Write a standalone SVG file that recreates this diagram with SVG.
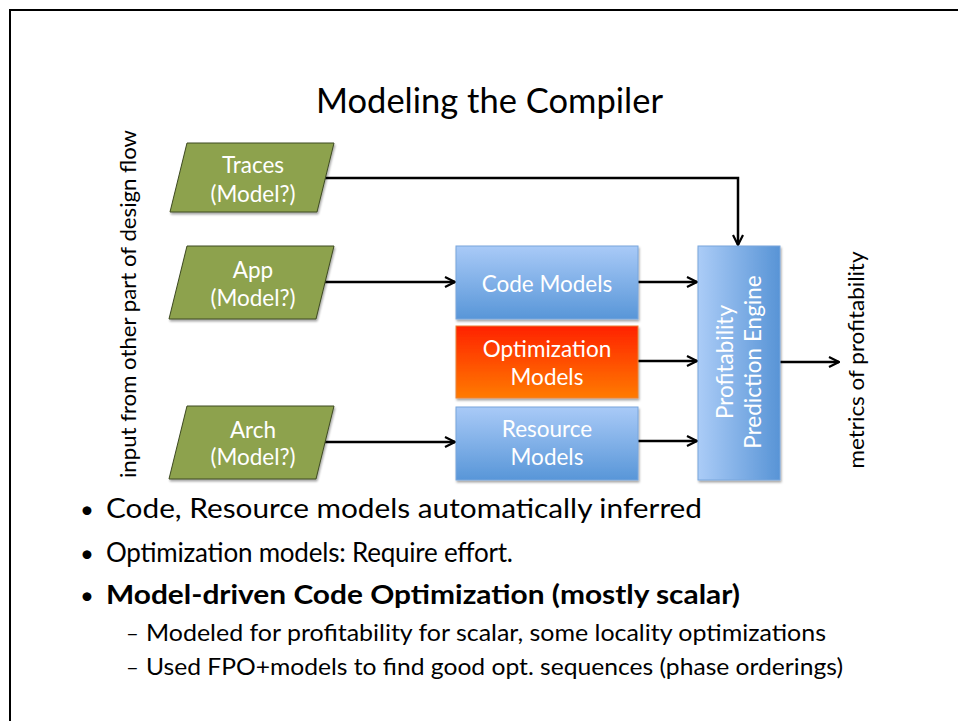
<svg xmlns="http://www.w3.org/2000/svg" width="958" height="721" viewBox="0 0 958 721">
  <style>
    text { font-family: Lato, "Liberation Sans", sans-serif; }
    .w { fill: #ffffff; font-size: 22.5px; text-anchor: middle; }
    .k { fill: #000000; }
    .conn { stroke: #000; stroke-width: 2.5; fill: none; marker-end: url(#arr); }
    .para { fill: #8DA24D; stroke: #3E4A22; stroke-width: 1; filter: url(#sh); }
    .blue { fill: url(#gBlue); stroke: #79A6DC; stroke-width: 1; filter: url(#sh); }
  </style>
  <defs>
    <marker id="arr" viewBox="0 0 12 12" refX="11" refY="6" markerWidth="12" markerHeight="12" markerUnits="userSpaceOnUse" orient="auto">
      <path d="M1,1 L11,6 L1,11" fill="none" stroke="#000" stroke-width="2.2"/>
    </marker>
    <linearGradient id="gBlue" x1="0" y1="0" x2="0" y2="1">
      <stop offset="0" stop-color="#A9CAF7"/>
      <stop offset="1" stop-color="#5896D8"/>
    </linearGradient>
    <linearGradient id="gOrange" x1="0" y1="0" x2="0" y2="1">
      <stop offset="0" stop-color="#FF2200"/>
      <stop offset="1" stop-color="#FF7B00"/>
    </linearGradient>
    <linearGradient id="gEngine" x1="0" y1="0" x2="1" y2="0">
      <stop offset="0" stop-color="#ABCCF7"/>
      <stop offset="1" stop-color="#5894D6"/>
    </linearGradient>
    <filter id="sh" x="-10%" y="-10%" width="130%" height="130%">
      <feDropShadow dx="1" dy="2" stdDeviation="1.2" flood-color="#000" flood-opacity="0.35"/>
    </filter>
  </defs>

  <rect width="958" height="721" fill="#ffffff"/>
  <path d="M10,721 V10 H958" fill="none" stroke="#000" stroke-width="2"/>

  <text class="k" x="316" y="113" font-size="34" textLength="347" lengthAdjust="spacingAndGlyphs">Modeling the Compiler</text>

  <text class="k" font-size="22" text-anchor="middle" transform="translate(136,304) rotate(-90)" textLength="348" lengthAdjust="spacingAndGlyphs">input from other part of design flow</text>
  <text class="k" font-size="22" text-anchor="middle" transform="translate(864,360) rotate(-90)" textLength="217" lengthAdjust="spacingAndGlyphs">metrics of profitability</text>

  <g id="connectors">
    <path class="conn" d="M325,178 H738 V245"/>
    <path class="conn" d="M324,282 H455"/>
    <path class="conn" d="M324,442 H455"/>
    <path class="conn" d="M638,282 H697"/>
    <path class="conn" d="M638,361 H697"/>
    <path class="conn" d="M638,441 H697"/>
    <path class="conn" d="M780,362 H839"/>
  </g>

  <g id="traces">
    <polygon class="para" points="187,143 334,143 317,212 170,212"/>
    <text class="w" x="253" y="173">Traces</text>
    <text class="w" x="253" y="202">(Model?)</text>
  </g>
  <g id="app">
    <polygon class="para" points="187,246 334,246 316,319 169,319"/>
    <text class="w" x="253" y="278">App</text>
    <text class="w" x="253" y="306">(Model?)</text>
  </g>
  <g id="arch">
    <polygon class="para" points="187,406 334,406 316,479 169,479"/>
    <text class="w" x="253" y="438">Arch</text>
    <text class="w" x="253" y="465">(Model?)</text>
  </g>

  <g id="code-models">
    <rect class="blue" x="456" y="246" width="182" height="73"/>
    <text class="w" x="547" y="292">Code Models</text>
  </g>
  <g id="optimization-models">
    <rect x="456" y="326" width="182" height="72" fill="url(#gOrange)" stroke="#E8833A" stroke-width="1" filter="url(#sh)"/>
    <text class="w" x="547" y="357">Optimization</text>
    <text class="w" x="547" y="385">Models</text>
  </g>
  <g id="resource-models">
    <rect class="blue" x="456" y="407" width="182" height="73"/>
    <text class="w" x="547" y="437">Resource</text>
    <text class="w" x="547" y="465">Models</text>
  </g>
  <g id="engine">
    <rect x="698" y="246" width="82" height="234" fill="url(#gEngine)" stroke="#79A6DC" stroke-width="1" filter="url(#sh)"/>
    <text class="w" transform="translate(733,362) rotate(-90)">Profitability</text>
    <text class="w" transform="translate(761,362) rotate(-90)">Prediction Engine</text>
  </g>

  <g id="bullets" class="k">
    <text x="80" y="518" font-size="24">•</text>
    <text x="106" y="518" font-size="26" textLength="596" lengthAdjust="spacingAndGlyphs">Code, Resource models automatically inferred</text>
    <text x="80" y="562" font-size="24">•</text>
    <text x="106" y="562" font-size="26" textLength="407" lengthAdjust="spacing">Optimization models: Require effort.</text>
    <text x="80" y="604" font-size="24">•</text>
    <text x="106" y="604" font-size="26" font-weight="bold" textLength="634" lengthAdjust="spacingAndGlyphs">Model-driven Code Optimization (mostly scalar)</text>
    <text x="126" y="641" font-size="22">–</text>
    <text x="146" y="641" font-size="22.5" textLength="680" lengthAdjust="spacingAndGlyphs">Modeled for profitability for scalar, some locality optimizations</text>
    <text x="126" y="675" font-size="22">–</text>
    <text x="146" y="675" font-size="22.5" textLength="697" lengthAdjust="spacingAndGlyphs">Used FPO+models to find good opt. sequences (phase orderings)</text>
  </g>
</svg>
